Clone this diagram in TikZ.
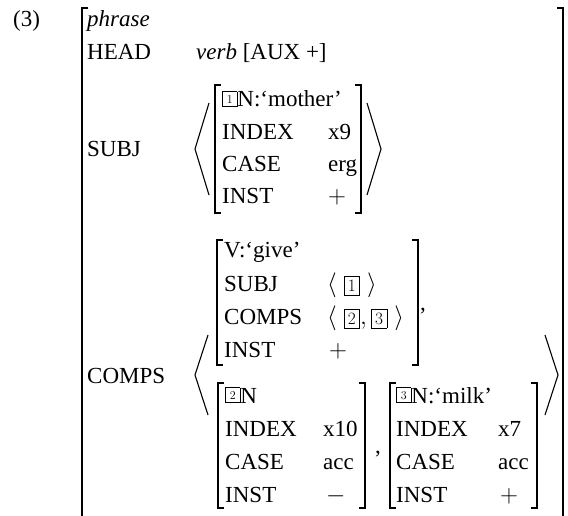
\documentclass[tikz,border=0pt]{standalone}
\usepackage[no-math]{fontspec}
\setmainfont{Liberation Serif}
\newcommand{\tgsmall}[1]{{\setlength{\fboxsep}{3.2pt}\setlength{\fboxrule}{0.7pt}\raisebox{3.9pt}{\fbox{\hspace{0.8pt}\fontsize{12.5}{12.5}\selectfont$#1$\hspace{0.8pt}}}}}
\newcommand{\tgbig}[1]{{\setlength{\fboxsep}{3.5pt}\setlength{\fboxrule}{0.7pt}\fbox{\fontsize{16}{16}\selectfont$#1$}}}
\tikzset{
  txt/.style={anchor=base west, inner sep=0pt, font=\fontsize{23}{27}\selectfont},
  brk/.style={line width=1.1pt},
  ang/.style={line width=1.1pt, line join=miter},
}
\begin{document}
\begin{tikzpicture}[x=1pt,y=-1pt]
\useasboundingbox (0,0) rectangle (568,516);
% outer
\node[txt] (num) at (13,27) {(3)};
\draw[brk] (88,8) -- (82,8) -- (82,517);
\draw[brk] (557,8) -- (563,8) -- (563,517);
\node[txt] (phrase) at (87,27) {\textit{phrase}};
\node[txt] (head) at (87,60) {HEAD};
\node[txt] (headval) at (196,60) {\textit{verb} [AUX +]};
\node[txt] (subj) at (87,157) {SUBJ};
\node[txt] (comps) at (87,383) {COMPS};
% SUBJ list
\draw[ang] (209,103) -- (195,149) -- (209,195);
\draw[ang] (367,103) -- (381,149) -- (367,195);
\draw[brk] (221,85) -- (215,85) -- (215,213) -- (221,213);
\draw[brk] (355,85) -- (361,85) -- (361,213) -- (355,213);
\node[txt] (m1) at (222,107) {\tgsmall{1}N:‘mother’};
\node[txt] (m2) at (222,140) {INDEX};
\node[txt] (m3) at (222,172) {CASE};
\node[txt] (m4) at (222,204) {INST};
\node[txt] (m2v) at (328,140) {x9};
\node[txt] (m3v) at (328,172) {erg};
\node[txt] (m4v) at (328,204) {$+$};
% COMPS list
\draw[ang] (208,335) -- (195,375) -- (208,415);
\draw[ang] (545,335) -- (558,375) -- (545,415);
% give
\draw[brk] (223,240) -- (217,240) -- (217,365) -- (223,365);
\draw[brk] (412,240) -- (418,240) -- (418,365) -- (412,365);
\node[txt] (g1) at (224,258) {V:‘give’};
\node[txt] (g2) at (224,291) {SUBJ};
\node[txt] (g3) at (224,324) {COMPS};
\node[txt] (g4) at (224,357) {INST};
\node[txt] (g2v) at (327,291) {$\langle\;$\tgbig{1}$\;\rangle$};
\node[txt] (g3v) at (327,324) {$\langle\;$\tgbig{2}$,\,$\tgbig{3}$\;\rangle$};
\node[txt] (g4v) at (329,357) {$+$};
\node[txt] (c1) at (420,310) {,};
% 2N
\draw[brk] (224,383) -- (218,383) -- (218,508) -- (224,508);
\draw[brk] (359,383) -- (365,383) -- (365,508) -- (359,508);
\node[txt] (n1) at (225,403) {\tgsmall{2}N};
\node[txt] (n2) at (225,436) {INDEX};
\node[txt] (n3) at (225,469) {CASE};
\node[txt] (n4) at (225,502) {INST};
\node[txt] (n2v) at (323,436) {x10};
\node[txt] (n3v) at (323,469) {acc};
\node[txt] (n4v) at (326,502) {$-$};
\node[txt] (c2) at (375,453) {,};
% 3N
\draw[brk] (396,383) -- (390,383) -- (390,508) -- (396,508);
\draw[brk] (531,383) -- (537,383) -- (537,508) -- (531,508);
\node[txt] (k1) at (396,403) {\tgsmall{3}N:‘milk’};
\node[txt] (k2) at (396,436) {INDEX};
\node[txt] (k3) at (396,469) {CASE};
\node[txt] (k4) at (396,502) {INST};
\node[txt] (k2v) at (498,436) {x7};
\node[txt] (k3v) at (498,469) {acc};
\node[txt] (k4v) at (500,502) {$+$};
\end{tikzpicture}
\end{document}
